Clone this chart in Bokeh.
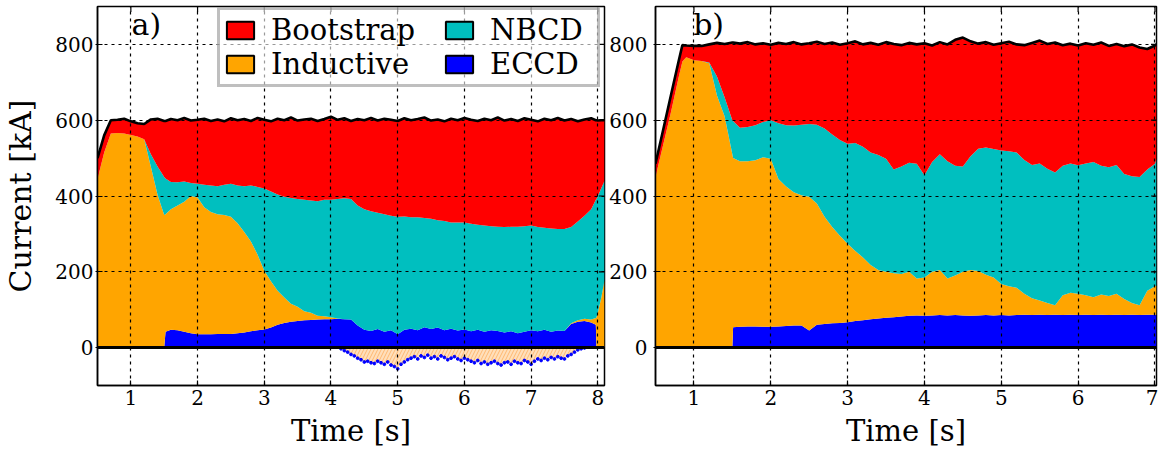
import numpy as np
from bokeh.plotting import figure
from bokeh.models import ColumnDataSource, Legend, LegendItem, Label, Range1d, FixedTicker, Span
from bokeh.layouts import row
from bokeh.embed import file_html
from bokeh.resources import INLINE

# ---------------- Panel a) data (kA) ----------------
t_a = [0.5, 0.6, 0.7, 0.8, 0.9, 1.0, 1.1, 1.2, 1.3, 1.4, 1.5, 1.52,
       1.6, 1.7, 1.8, 1.9, 2.0, 2.1, 2.2, 2.3, 2.4, 2.5, 2.6, 2.7, 2.8, 2.9,
       3.0, 3.1, 3.2, 3.3, 3.4, 3.5, 3.6, 3.7, 3.8, 3.9, 4.0, 4.1, 4.2, 4.3,
       4.4, 4.5, 4.6, 4.7, 4.8, 4.9, 5.0, 5.1, 5.2, 5.3, 5.4, 5.5, 5.6, 5.7,
       5.8, 5.9, 6.0, 6.1, 6.2, 6.3, 6.4, 6.5, 6.6, 6.7, 6.8, 6.9, 7.0, 7.1,
       7.2, 7.3, 7.4, 7.5, 7.6, 7.7, 7.8, 7.9, 7.97, 7.98, 8.0, 8.05, 8.1]
eccd_a = [0, 0, 0, 0, 0, 0, 0, 0, 0, 0, 0, 42,
          47, 46, 42, 38, 35, 35, 35, 36, 36, 36, 38, 40, 43, 46,
          48, 53, 60, 65, 68, 70, 72, 73, 74, 75, 75, 76, 75, 74,
          58, 47, 44, 49, 42, 46, 35, 47, 50, 46, 54, 49, 53, 46,
          50, 45, 48, 43, 47, 42, 46, 44, 40, 43, 38, 42, 46, 43,
          47, 42, 45, 44, 62, 68, 70, 66, 60, 0, 0, 0, 0]
ind_a = [445, 515, 565, 566, 565, 561, 557, 550, 477, 403, 350, 310,
         318, 329, 343, 362, 361, 335, 323, 316, 314, 309, 290, 265, 237, 199,
         155, 122, 90, 67, 48, 38, 24, 19, 10, 8, 5, 1, 0, -4,
         -26, -38, -40, -36, -44, -46, -56, -38, -28, -30, -26, -28, -30, -26,
         -28, -30, -28, -36, -34, -38, -40, -42, -40, -44, -40, -34, -44, -30,
         -28, -26, -24, -30, 2, 4, 6, 8, 18, 80, 92, 130, 178]
nbcd_a = [0, 0, 0, 0, 0, 0, 0, 0, 33, 75, 100, 94,
          72, 61, 53, 34, 36, 60, 70, 74, 80, 87, 100, 121, 148, 179,
          217, 237, 254, 266, 279, 284, 294, 296, 302, 307, 310, 315, 319, 318,
          317, 318, 316, 307, 310, 302, 310, 299, 294, 298, 288, 291, 283, 288,
          280, 285, 282, 284, 277, 280, 274, 275, 278, 276, 281, 278, 276, 275,
          269, 272, 268, 269, 254, 261, 272, 291, 312, 312, 308, 290, 262]
bs_a = [55, 45, 35, 35, 39, 36, 35, 40, 92, 126, 148, 152,
        166, 164, 168, 165, 169, 174, 170, 176, 167, 173, 172, 177, 170, 182,
        181, 185, 200, 202, 212, 207, 212, 216, 212, 213, 219, 209, 211, 206,
        228, 235, 246, 243, 252, 253, 253, 259, 256, 259, 265, 259, 266, 263,
        274, 270, 276, 274, 274, 282, 280, 288, 281, 284, 279, 285, 279, 279,
        288, 286, 293, 286, 285, 264, 254, 240, 210, 208, 199, 180, 160]
total_a = [500, 560, 600, 601, 604, 597, 592, 590, 602, 604, 598, 598,
           603, 600, 606, 599, 601, 604, 598, 602, 597, 605, 600, 603, 598, 606,
           601, 597, 604, 600, 607, 599, 602, 604, 598, 603, 609, 601, 605, 598,
           603, 600, 606, 599, 604, 601, 598, 605, 600, 603, 607, 599, 602, 597,
           604, 600, 606, 601, 598, 604, 600, 607, 599, 603, 598, 605, 601, 597,
           604, 600, 606, 599, 603, 597, 602, 605, 600, 600, 599, 600, 600]
# negative inductive current (dotted points below zero)
neg_t_a = [4.15, 4.2, 4.25, 4.3, 4.35, 4.4, 4.45, 4.5, 4.55, 4.6, 4.65, 4.7,
           4.75, 4.8, 4.85, 4.9, 4.95, 5.0, 5.05, 5.1, 5.15, 5.2, 5.25, 5.3,
           5.35, 5.4, 5.45, 5.5, 5.55, 5.6, 5.65, 5.7, 5.75, 5.8, 5.85, 5.9,
           5.95, 6.0, 6.05, 6.1, 6.15, 6.2, 6.25, 6.3, 6.35, 6.4, 6.45, 6.5,
           6.55, 6.6, 6.65, 6.7, 6.75, 6.8, 6.85, 6.9, 6.95, 7.0, 7.05, 7.1,
           7.15, 7.2, 7.25, 7.3, 7.35, 7.4, 7.45, 7.5, 7.55, 7.6, 7.65, 7.7,
           7.75, 7.8]
neg_ind_a = [-3, -8, -12, -18, -22, -28, -32, -38, -36, -40, -42, -36,
             -40, -44, -38, -46, -50, -56, -44, -38, -32, -28, -24, -30,
             -22, -26, -20, -28, -24, -30, -22, -26, -32, -28, -24, -30,
             -34, -28, -32, -36, -40, -34, -42, -38, -44, -40, -36, -42,
             -46, -40, -38, -44, -36, -40, -42, -34, -38, -44, -36, -30,
             -34, -28, -32, -26, -30, -24, -28, -30, -22, -18, -12, -6,
             -3, -1]

# ---------------- Panel b) data (kA) ----------------
t_b = [0.5, 0.6, 0.7, 0.8, 0.85, 0.9, 1.0, 1.1, 1.2, 1.3, 1.4, 1.5, 1.51,
       1.6, 1.7, 1.8, 1.9, 2.0, 2.1, 2.2, 2.3, 2.4, 2.5, 2.6, 2.7, 2.8, 2.9,
       3.0, 3.1, 3.2, 3.3, 3.4, 3.5, 3.6, 3.7, 3.8, 3.9, 4.0, 4.1, 4.2, 4.3,
       4.4, 4.5, 4.6, 4.7, 4.8, 4.9, 5.0, 5.1, 5.2, 5.3, 5.4, 5.5, 5.6, 5.7,
       5.8, 5.9, 6.0, 6.1, 6.2, 6.3, 6.4, 6.5, 6.6, 6.7, 6.8, 6.9, 7.0, 7.02]
eccd_b = [0, 0, 0, 0, 0, 0, 0, 0, 0, 0, 0, 0, 54,
          55, 56, 56, 55, 55, 56, 57, 58, 58, 45, 60, 62, 64, 65,
          67, 70, 72, 75, 77, 79, 80, 82, 84, 85, 84, 85, 86, 85,
          86, 85, 84, 85, 86, 85, 86, 85, 86, 87, 86, 87, 86, 87,
          86, 87, 86, 87, 86, 87, 86, 87, 86, 87, 86, 87, 87, 87]
ind_b = [450, 535, 620, 712, 755, 766, 758, 756, 750, 665, 610, 510, 446,
         437, 436, 438, 447, 443, 389, 368, 352, 344, 353, 320, 283, 254, 230,
         207, 185, 166, 143, 128, 121, 116, 112, 116, 97, 101, 115, 119, 97,
         104, 115, 121, 117, 106, 100, 82, 77, 72, 55, 44, 37, 32, 25,
         52, 58, 56, 51, 47, 53, 50, 55, 42, 31, 26, 63, 75, 77]
nbcd_b = [0, 0, 0, 0, 0, 0, 0, 0, 2, 50, 50, 90, 98,
          88, 90, 93, 93, 102, 147, 162, 176, 186, 192, 208, 233, 244, 253,
          264, 285, 292, 297, 303, 298, 274, 284, 288, 303, 270, 290, 305, 310,
          290, 278, 300, 323, 336, 339, 352, 356, 357, 353, 352, 362, 354, 350,
          342, 341, 339, 348, 357, 340, 340, 340, 330, 334, 338, 320, 323, 334]
bs_b = [35, 40, 45, 43, 43, 31, 38, 40, 48, 89, 141, 205, 207,
        222, 224, 213, 208, 199, 212, 214, 220, 212, 213, 219, 223, 243, 251,
        265, 268, 270, 289, 291, 308, 331, 320, 316, 315, 348, 307, 296, 308,
        332, 340, 303, 277, 278, 275, 283, 289, 285, 303, 322, 324, 329, 343,
        318, 316, 316, 317, 309, 325, 320, 319, 337, 348, 342, 318, 312, 302]
total_b = [485, 575, 665, 755, 798, 797, 796, 796, 800, 804, 801, 805, 805,
           802, 806, 800, 803, 799, 804, 801, 806, 800, 803, 807, 801, 805, 799,
           803, 808, 800, 804, 799, 806, 801, 798, 804, 800, 803, 797, 806, 800,
           812, 818, 808, 802, 806, 799, 803, 807, 800, 798, 804, 810, 801, 805,
           798, 802, 797, 803, 799, 805, 796, 801, 795, 800, 792, 788, 797, 800]

x_ticks_a = [1, 2, 3, 4, 5, 6, 7, 8]
x_ticks_b = [1, 2, 3, 4, 5, 6, 7]
y_ticks = [0, 200, 400, 600, 800]

RED, ORANGE, CYAN, BLUE = "#ff0000", "#ffa500", "#00bfbf", "#0000ff"
FONT = "DejaVu Serif"
YMIN, YMAX = -100, 900
HEIGHT = 453


def make_panel(t, eccd, ind, nbcd, bs, total, xr, xticks, width, bl, br,
               ylabel, tag, tag_x, with_legend=False, neg_t=None, neg_ind=None,
               label_standoff=2):
    p = figure(width=width, height=HEIGHT, x_range=Range1d(*xr),
               y_range=Range1d(YMIN, YMAX), output_backend="svg",
               toolbar_location=None, min_border_left=bl, min_border_right=br,
               min_border_top=6, min_border_bottom=68)
    src = ColumnDataSource(dict(t=t, eccd=eccd, ind=np.clip(np.array(ind), 0, None),
                                nbcd=nbcd, bs=bs, total=total))
    p.varea_stack(["eccd", "ind", "nbcd", "bs"], x="t", source=src,
                  color=[BLUE, ORANGE, CYAN, RED])
    if neg_t is not None:
        p.varea(x=neg_t, y1=0, y2=neg_ind, fill_color="#ffdcb4", fill_alpha=0.9,
                hatch_pattern="/", hatch_color="#ffb870", hatch_scale=7,
                hatch_weight=1)
        p.scatter(x=neg_t, y=neg_ind, size=2.8, color=BLUE)
    p.line("t", "total", source=src, line_color="black", line_width=2.6)
    p.add_layout(Span(location=0, dimension="width", line_color="black",
                      line_width=3))

    # inner tick marks on top and right edges
    p.scatter(x=xticks, y=[YMAX] * len(xticks), marker="dash", angle=np.pi / 2,
              size=11, line_color="black", line_width=1.2)
    p.scatter(x=[xr[1]] * len(y_ticks), y=y_ticks, marker="dash", size=11,
              line_color="black", line_width=1.2)

    p.xaxis.ticker = FixedTicker(ticks=xticks)
    p.yaxis.ticker = FixedTicker(ticks=y_ticks)
    for ax in (p.xaxis, p.yaxis):
        ax.major_label_text_font = FONT
        ax.major_label_text_font_size = "20px"
        ax.major_label_text_color = "black"
        ax.axis_label_text_font = FONT
        ax.axis_label_text_font_size = "30px"
        ax.axis_label_text_font_style = "normal"
        ax.axis_label_text_color = "black"
        ax.minor_tick_line_color = None
        ax.major_tick_in = 5
        ax.major_tick_line_width = 1.2
        ax.axis_line_width = 1.5
        ax.axis_line_color = "black"
    p.yaxis.major_tick_out = 2
    p.xaxis.major_tick_out = 0
    p.xaxis.axis_label = "Time [s]"
    p.xaxis.axis_label_text_font_size = "29px"
    p.xaxis.major_label_standoff = 4
    p.xaxis.axis_label_standoff = 6
    p.yaxis.major_label_standoff = label_standoff
    if ylabel:
        p.yaxis.axis_label = ylabel
        p.yaxis.axis_label_standoff = 14

    p.grid.grid_line_color = "black"
    p.grid.grid_line_dash = "3 4"
    p.grid.grid_line_width = 1.2
    p.grid.level = "guide"
    p.outline_line_color = "black"
    p.outline_line_width = 1.5
    p.background_fill_color = "white"

    p.add_layout(Label(x=tag_x, y=898, text=tag, text_font=FONT,
                       text_font_size="30px", text_baseline="top",
                       text_color="black"))

    if with_legend:
        rends = {}
        for name, col in [("Bootstrap", RED), ("Inductive", ORANGE),
                          ("NBCD", CYAN), ("ECCD", BLUE)]:
            rends[name] = p.quad(left=[np.nan], right=[np.nan], top=[np.nan],
                                 bottom=[np.nan], fill_color=col,
                                 line_color="black", line_width=2)
        common = dict(label_text_font=FONT, label_text_font_size="29px",
                      label_text_color="black",
                      glyph_width=34, glyph_height=22, label_standoff=14,
                      spacing=0, padding=3, margin=0, label_height=34)
        lg1 = Legend(items=[LegendItem(label=n, renderers=[rends[n]])
                            for n in ("Bootstrap", "Inductive")],
                     location=(120, 298), label_width=323,
                     border_line_color="#808080", border_line_width=3,
                     background_fill_color="white", background_fill_alpha=0.6,
                     **common)
        lg2 = Legend(items=[LegendItem(label=n, renderers=[rends[n]])
                            for n in ("NBCD", "ECCD")],
                     location=(345, 304), border_line_color=None,
                     background_fill_alpha=0, **common)
        p.add_layout(lg1)
        p.add_layout(lg2)
    return p


pa = make_panel(t_a, eccd_a, ind_a, nbcd_a, bs_a, total_a, (0.5, 8.1), x_ticks_a,
                606, 97, 2, "Current [kA]", "a)", 1.01, with_legend=True,
                neg_t=neg_t_a, neg_ind=neg_ind_a)
pb = make_panel(t_b, eccd_b, ind_b, nbcd_b, bs_b, total_b, (0.5, 7.02), x_ticks_b,
                552, 49, 2, None, "b)", 0.99, label_standoff=6)

layout = row(pa, pb)
open("out.html", "w").write(file_html(layout, INLINE))
